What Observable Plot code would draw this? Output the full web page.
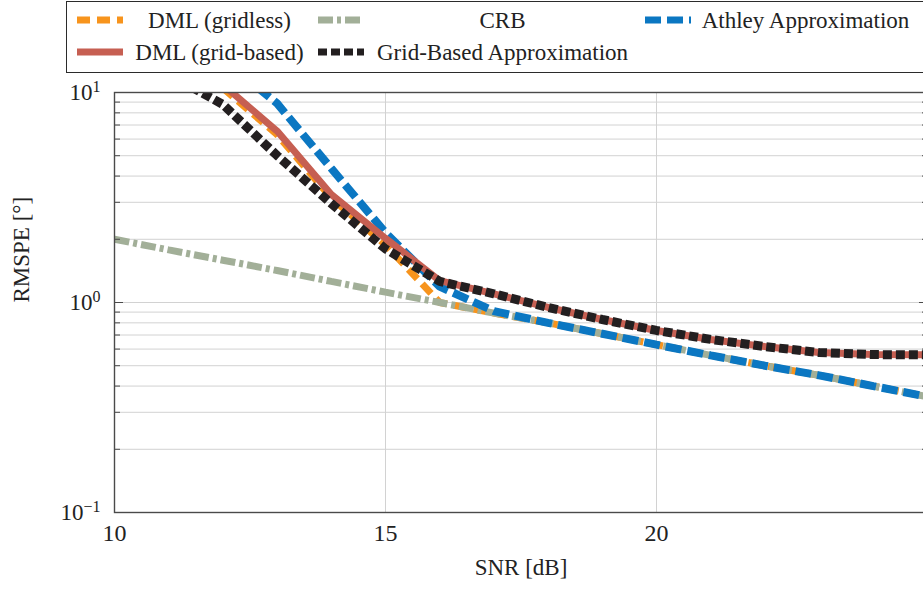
<!DOCTYPE html>
<html><head><meta charset="utf-8">
<script src="https://cdn.jsdelivr.net/npm/d3@7"></script>
<script src="https://cdn.jsdelivr.net/npm/@observablehq/plot@0.6"></script>
<style>
html,body{margin:0;padding:0;background:#fff;overflow:hidden;width:923px;height:592px;}
#wrap{position:relative;width:923px;height:592px;overflow:hidden;}
#legend{position:absolute;left:66px;top:1px;width:880px;height:72px;border:1.5px solid #2b2b2b;box-sizing:border-box;font-family:"Liberation Serif","DejaVu Serif",serif;font-size:23px;color:#222;background:#fff;z-index:2;}
.lt{position:absolute;transform:translate(-50%,-50%);white-space:nowrap;line-height:1;}
.ls{position:absolute;}
#chart{position:absolute;left:0;top:74px;width:935px;}
#chart svg{max-width:none !important;}
</style></head><body><div id="wrap"><div id="legend"></div><div id="chart"></div></div>
<script>
// ---- data ----
const snrCRB = [10,11,12,13,14,15,16,17,18,19,20,21,22,23,24,25];
const crb    = [2.00,1.78,1.59,1.42,1.26,1.12,1.00,0.89,0.80,0.71,0.63,0.56,0.50,0.45,0.40,0.356];

const snrGridless = [12,13,14,15,16,17,18,19,20,21,22,23,24,25];
const dmlGridless = [10.5,6.3,3.15,1.88,1.00,0.89,0.80,0.71,0.63,0.56,0.50,0.45,0.40,0.356];

const snrAthley = [12,13,14,15,16,17,18,19,20,21,22,23,24,25];
const athley    = [14.4,8.87,4.35,2.15,1.19,0.91,0.80,0.71,0.63,0.56,0.50,0.45,0.40,0.356];

const snrGridBased = [12,13,14,15,16,17,18,19,20,21,22,23,24,25];
const dmlGridBased = [10.9,6.55,3.27,2.02,1.27,1.10,0.947,0.83,0.736,0.667,0.617,0.578,0.565,0.563];

const snrGridApprox = [11,12,13,14,15,16,17,18,19,20,21,22,23,24,25];
const gridApprox    = [12.2,8.77,5.01,2.96,1.80,1.26,1.10,0.947,0.83,0.736,0.667,0.617,0.578,0.565,0.563];

const xTicks = [10,15,20];
const xGridTicks = [15,20];
const yMajorTicks = [0.1,1,10];
const yMinorTicks = [0.2,0.3,0.4,0.5,0.6,0.7,0.8,0.9,2,3,4,5,6,7,8,9];
const yTickLabels = ["10^\u22121","10^0","10^1"];

// ---- styles ----
const series = [
  {name:"DML (gridless)", snr:snrGridless, val:dmlGridless, color:"#f7941d", width:7, dash:"13,7"},
  {name:"CRB", snr:snrCRB, val:crb, color:"#a2af98", width:7, dash:"15,4,4,4"},
  {name:"Athley Approximation", snr:snrAthley, val:athley, color:"#0b77c2", width:8, dash:"16,6"},
  {name:"DML (grid-based)", snr:snrGridBased, val:dmlGridBased, color:"#c65f52", width:7, dash:null},
  {name:"Grid-Based Approximation", snr:snrGridApprox, val:gridApprox, color:"#231f20", width:9, dash:"9,4"}
];

// ---- legend (HTML, above the plot) ----
const legend = document.getElementById("legend");
const ox = 67.5, oy = 2.5;
const legendPos = [
  {sx:77, tx:220, y:20},
  {sx:318, tx:503, y:20},
  {sx:645, tx:806, y:20},
  {sx:77, tx:220, y:52},
  {sx:318, tx:503, y:52}
];
series.forEach((s,i)=>{
  const p = legendPos[i];
  const svg = d3.create("svg").attr("class","ls").attr("width",46).attr("height",12)
    .style("left",(p.sx-ox)+"px").style("top",(p.y-oy-6)+"px");
  svg.append("line").attr("x1",0).attr("x2",46).attr("y1",6).attr("y2",6)
    .attr("stroke",s.color).attr("stroke-width",Math.min(s.width,7))
    .attr("stroke-dasharray",s.dash||null);
  legend.appendChild(svg.node());
  const t = document.createElement("span");
  t.className="lt"; t.textContent=s.name;
  t.style.left=(p.tx-ox)+"px"; t.style.top=(p.y-oy)+"px";
  legend.appendChild(t);
});

// ---- plot ----
const gridColor = "#d2d2d2", axisColor = "#4a4a4a";
const lineMarks = series.map(s=>{
  const rows = s.snr.map((x,i)=>({snr:x, v:s.val[i]}));
  return Plot.line(rows,{x:"snr", y:"v", stroke:s.color, strokeWidth:s.width,
    strokeDasharray:s.dash||undefined, strokeLinecap:"butt", strokeLinejoin:"miter", clip:true});
});

const chart = Plot.plot({
  width: 935, height: 518,
  marginLeft: 114, marginRight: 8, marginTop: 18, marginBottom: 80,
  style: {fontFamily:"'Liberation Serif','DejaVu Serif',serif", fontSize:"23px", color:"#222", background:"transparent", maxWidth:"none"},
  x: {domain:[10,25]},
  y: {type:"log", domain:[0.1,10]},
  marks: [
    Plot.gridY(yMinorTicks.concat(yMajorTicks), {stroke:gridColor, strokeOpacity:1, strokeWidth:1}),
    Plot.gridX(xGridTicks, {stroke:gridColor, strokeOpacity:1, strokeWidth:1}),
    ...lineMarks,
    Plot.axisY(yMinorTicks, {anchor:"left", tickSize:-6, text:null, stroke:axisColor, label:null}),
    Plot.axisY(yMajorTicks, {anchor:"left", tickSize:-9, text:null, stroke:axisColor, label:null}),
    Plot.axisY(yMinorTicks, {anchor:"right", tickSize:-6, text:null, stroke:axisColor, label:null}),
    Plot.axisY(yMajorTicks, {anchor:"right", tickSize:-9, text:null, stroke:axisColor, label:null}),
    Plot.axisY(yMajorTicks, {anchor:"left", tickSize:0, tickPadding:14, label:null,
      tickFormat:(d)=>yTickLabels[yMajorTicks.indexOf(d)]}),
    Plot.axisX(xTicks, {anchor:"bottom", tickSize:0, tickPadding:11, label:null, fontSize:24, tickFormat:(d)=>String(d)}),
    Plot.frame({stroke:axisColor, strokeWidth:1.4}),
    Plot.text(["SNR [dB]"], {frameAnchor:"bottom", dy:62, text:(d)=>d}),
    Plot.text(["RMSPE [°]"], {frameAnchor:"left", dx:-93, rotate:-90, text:(d)=>d})
  ]
});
chart.style.maxWidth = "none";

// superscripts for the log tick labels
d3.select(chart).selectAll("text").each(function(){
  const el = d3.select(this);
  const m = /^10\^(.+)$/.exec(this.textContent);
  if (m) {
    el.text("10");
    el.append("tspan").attr("dy","-0.5em").attr("font-size","16px").text(m[1]);
  }
});
document.getElementById("chart").appendChild(chart);
</script>
</body></html>
